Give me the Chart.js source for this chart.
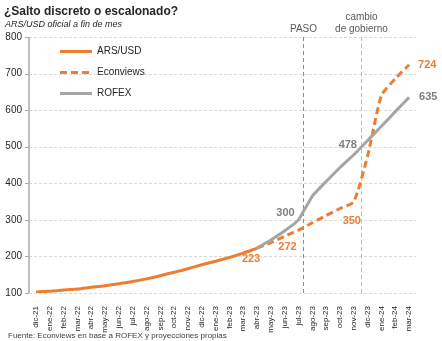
<!DOCTYPE html>
<html lang="es">
<head>
    <meta charset="UTF-8">
    <title>¿Salto discreto o escalonado?</title>
    <script src="https://cdn.jsdelivr.net/npm/chart.js"></script>
    <style>
        html, body { margin: 0; padding: 0; background: #fff; }
        #wrap { width: 442px; height: 341px; }
    </style>
</head>
<body>
    <div id="wrap"><canvas id="fxChart" width="442" height="341"></canvas></div>

    <script>
        // Data
        const months = ['dic-21', 'ene-22', 'feb-22', 'mar-22', 'abr-22', 'may-22', 'jun-22', 'jul-22',
            'ago-22', 'sep-22', 'oct-22', 'nov-22', 'dic-22', 'ene-23', 'feb-23', 'mar-23', 'abr-23',
            'may-23', 'jun-23', 'jul-23', 'ago-23', 'sep-23', 'oct-23', 'nov-23', 'dic-23', 'ene-24',
            'feb-24', 'mar-24'];
        const arsUsd = [102.7, 105.0, 107.9, 111.0, 115.5, 119.9, 125.2, 131.2, 138.7, 147.3, 156.9,
            166.5, 177.1, 186.9, 197.1, 209.0, 222.7,
            null, null, null, null, null, null, null, null, null, null, null];
        const econviews = [null, null, null, null, null, null, null, null, null, null, null, null, null,
            null, null, null, 222.7, 238, 255, 272, 292, 312, 331, 350, 475, 640, 686, 724];
        const rofex = [null, null, null, null, null, null, null, null, null, null, null, null, null,
            null, null, null, 222.7, 245, 270, 300, 365, 405, 443, 478, 517, 556, 596, 635];
        const yTicks = [100, 200, 300, 400, 500, 600, 700, 800];

        // vertical event markers (position in category units)
        const eventNames = [['PASO'], ['cambio', 'de gobierno']];
        const eventAt = [19.3, 23.5];

        // which points carry a value label: [dataset index, category index]
        const labelledPoints = [[0, 16], [1, 19], [1, 23], [1, 27], [2, 19], [2, 23], [2, 27]];

        const ORANGE = '#ED7D31';
        const GREY = '#A5A5A5';
        const FONT = '"Liberation Sans", Arial, sans-serif';

        const overlay = {
            id: 'overlay',
            beforeDatasetsDraw(chart) {
                const { ctx, chartArea, scales } = chart;
                ctx.save();
                // dashed horizontal grid lines
                ctx.strokeStyle = '#d9d9d9';
                ctx.lineWidth = 1;
                ctx.setLineDash([3, 2]);
                yTicks.forEach(v => {
                    const y = Math.round(scales.y.getPixelForValue(v)) + 0.5;
                    ctx.beginPath();
                    ctx.moveTo(chartArea.left, y);
                    ctx.lineTo(chartArea.right, y);
                    ctx.stroke();
                });
                ctx.setLineDash([]);
                // y axis line and tick marks
                ctx.strokeStyle = '#bfbfbf';
                ctx.lineWidth = 2;
                ctx.beginPath();
                ctx.moveTo(chartArea.left, chartArea.top);
                ctx.lineTo(chartArea.left, chartArea.bottom);
                ctx.stroke();
                ctx.lineWidth = 1;
                ctx.strokeStyle = '#a6a6a6';
                yTicks.forEach(v => {
                    const y = Math.round(scales.y.getPixelForValue(v)) + 0.5;
                    ctx.beginPath();
                    ctx.moveTo(chartArea.left - 4, y);
                    ctx.lineTo(chartArea.left, y);
                    ctx.stroke();
                });
                // event lines
                eventAt.forEach((at, i) => {
                    const x = Math.round(scales.x.getPixelForValue(at)) + 0.5;
                    ctx.strokeStyle = i === 0 ? '#8c8c8c' : '#bdbdbd';
                    ctx.lineWidth = 1;
                    ctx.setLineDash([4, 3]);
                    ctx.beginPath();
                    ctx.moveTo(x, chartArea.top);
                    ctx.lineTo(x, chartArea.bottom);
                    ctx.stroke();
                    ctx.setLineDash([]);
                    ctx.fillStyle = '#595959';
                    ctx.font = '10px ' + FONT;
                    ctx.textAlign = 'center';
                    ctx.textBaseline = 'middle';
                    const lines = eventNames[i];
                    lines.forEach((t, k) => {
                        ctx.fillText(t, x, 29 - (lines.length - 1 - k) * 12);
                    });
                });
                ctx.restore();
            },
            afterDatasetsDraw(chart) {
                const { ctx } = chart;
                ctx.save();
                // titles
                ctx.fillStyle = '#262626';
                ctx.textAlign = 'left';
                ctx.textBaseline = 'alphabetic';
                ctx.font = 'bold 12px ' + FONT;
                ctx.fillText('¿Salto discreto o escalonado?', 4, 15);
                ctx.font = 'italic 9px ' + FONT;
                ctx.fillText('ARS/USD oficial a fin de mes', 5, 27);
                // source
                ctx.fillStyle = '#404040';
                ctx.font = '8px ' + FONT;
                ctx.fillText('Fuente: Econviews en base a ROFEX y proyecciones propias', 8, 338);

                // legend
                const items = chart.data.datasets;
                ctx.font = '10px ' + FONT;
                ctx.textBaseline = 'middle';
                items.forEach((ds, i) => {
                    const y = 51.5 + i * 21;
                    ctx.strokeStyle = ds.borderColor;
                    ctx.lineWidth = 3;
                    ctx.setLineDash(ds.borderDash || []);
                    ctx.beginPath();
                    ctx.moveTo(60, y);
                    ctx.lineTo(92, y);
                    ctx.stroke();
                    ctx.setLineDash([]);
                    ctx.fillStyle = '#262626';
                    ctx.fillText(ds.label, 97, y);
                });

                // value labels
                const offsets = {
                    '0-16': [-6, 11, 'center'],
                    '1-19': [-11, 17, 'center'],
                    '1-23': [-2, 19, 'center'],
                    '1-27': [9, 0, 'left'],
                    '2-19': [-13, -7, 'center'],
                    '2-23': [-6, -10, 'center'],
                    '2-27': [10, 0, 'left']
                };
                ctx.font = 'bold 11px ' + FONT;
                labelledPoints.forEach(([d, idx]) => {
                    const pt = chart.getDatasetMeta(d).data[idx];
                    const value = chart.data.datasets[d].data[idx];
                    const [dx, dy, align] = offsets[d + '-' + idx];
                    ctx.fillStyle = d === 2 ? '#7f7f7f' : ORANGE;
                    ctx.textAlign = align;
                    ctx.fillText(String(Math.round(value)), pt.x + dx, pt.y + dy);
                });
                ctx.restore();
            }
        };

        new Chart(document.getElementById('fxChart'), {
            type: 'line',
            data: {
                labels: months,
                datasets: [
                    {
                        label: 'ARS/USD',
                        data: arsUsd,
                        borderColor: ORANGE,
                        borderWidth: 3,
                        tension: 0.3,
                        order: 0
                    },
                    {
                        label: 'Econviews',
                        data: econviews,
                        borderColor: ORANGE,
                        borderWidth: 3,
                        borderDash: [7, 4],
                        tension: 0.2,
                        order: 2
                    },
                    {
                        label: 'ROFEX',
                        data: rofex,
                        borderColor: GREY,
                        borderWidth: 3,
                        tension: 0.1,
                        order: 1
                    }
                ]
            },
            options: {
                responsive: false,
                animation: false,
                devicePixelRatio: 1,
                elements: { point: { radius: 0 } },
                layout: { padding: { top: 37, right: 26, bottom: 0, left: 0 } },
                plugins: {
                    legend: { display: false },
                    tooltip: { enabled: false }
                },
                scales: {
                    x: {
                        offset: true,
                        grid: { display: false },
                        border: { display: false },
                        ticks: {
                            minRotation: 90,
                            maxRotation: 90,
                            autoSkip: false,
                            padding: 5,
                            color: '#262626',
                            font: { family: FONT, size: 8 }
                        },
                        afterFit(scale) { scale.height = 48; }
                    },
                    y: {
                        min: 100,
                        max: 800,
                        afterBuildTicks(scale) { scale.ticks = yTicks.map(v => ({ value: v })); },
                        grid: { color: 'rgba(0,0,0,0)', drawTicks: false },
                        border: { display: false },
                        ticks: {
                            padding: 7,
                            color: '#262626',
                            font: { family: FONT, size: 10 }
                        },
                        afterFit(scale) { scale.width = 29; }
                    }
                }
            },
            plugins: [overlay]
        });
    </script>
</body>
</html>
